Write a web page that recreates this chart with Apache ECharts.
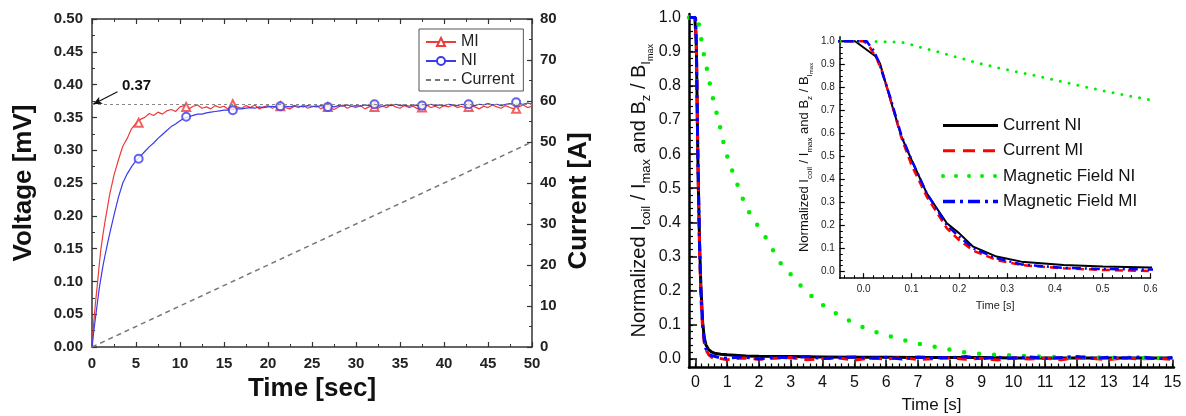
<!DOCTYPE html>
<html><head><meta charset="utf-8">
<script src="https://cdn.jsdelivr.net/npm/echarts@6/dist/echarts.min.js"></script>
<style>html,body{margin:0;padding:0;background:#fff}#c{width:1186px;height:416px}</style>
</head><body><div id="c"></div>
<script>
// ---------------- LEFT CHART DATA ----------------
const leftTime = [0,0.2,0.4,0.6,0.8,1,1.25,1.5,1.75,2,2.5,3,3.5,4,4.5,5,5.5,6,6.5,7,7.5,8,8.5,9,9.5,10,10.5,11,11.5,12,12.5,13,13.5,14,14.5,15,15.5,16,16.5,17,17.5,18,18.5,19,19.5,20,20.5,21,21.5,22,22.5,23,23.5,24,24.5,25,25.5,26,26.5,27,27.5,28,28.5,29,29.5,30,30.5,31,31.5,32,32.5,33,33.5,34,34.5,35,35.5,36,36.5,37,37.5,38,38.5,39,39.5,40,40.5,41,41.5,42,42.5,43,43.5,44,44.5,45,45.5,46,46.5,47,47.5,48,48.5,49,49.5,50];
const miVoltage = [0,0.038,0.068,0.094,0.122,0.148,0.172,0.193,0.212,0.232,0.262,0.285,0.306,0.318,0.333,0.341,
0.347,0.350,0.356,0.353,0.358,0.355,0.360,0.362,0.359,0.366,
0.368,0.363,0.367,0.369,0.364,0.366,0.363,0.368,0.365,0.367,
0.362,0.369,0.366,0.364,0.368,0.365,0.369,0.363,0.366,0.368,
0.364,0.367,0.369,0.365,0.363,0.367,0.365,0.369,0.364,0.366,
0.368,0.363,0.367,0.365,0.362,0.366,0.369,0.364,0.367,0.365,
0.368,0.363,0.366,0.369,0.364,0.367,0.365,0.370,0.366,0.364,
0.368,0.365,0.367,0.363,0.366,0.369,0.365,0.367,0.364,0.368,
0.366,0.369,0.365,0.367,0.364,0.368,0.366,0.363,0.367,0.365,
0.369,0.366,0.364,0.368,0.365,0.363,0.366,0.369,0.365,0.367];
const niVoltage = [0,0.024,0.045,0.066,0.087,0.104,0.124,0.141,0.157,0.172,0.201,0.228,0.250,0.264,0.275,0.284,
0.291,0.298,0.305,0.311,0.318,0.324,0.330,0.336,0.340,0.345,
0.349,0.351,0.353,0.355,0.355,0.357,0.358,0.359,0.360,0.361,
0.361,0.362,0.363,0.363,0.364,0.365,0.364,0.366,0.365,0.366,
0.367,0.366,0.368,0.367,0.366,0.368,0.367,0.366,0.368,0.367,
0.366,0.368,0.367,0.368,0.366,0.368,0.367,0.369,0.367,0.368,
0.367,0.369,0.368,0.370,0.368,0.367,0.369,0.368,0.370,0.368,
0.369,0.367,0.369,0.368,0.369,0.368,0.370,0.368,0.369,0.368,
0.370,0.369,0.368,0.370,0.369,0.370,0.368,0.370,0.369,0.371,
0.369,0.370,0.368,0.370,0.371,0.369,0.371,0.370,0.372,0.370];
const miMarkTime = [5.3,10.7,16.0,21.4,26.8,32.1,37.5,42.8,48.2];
const miMarkVoltage = [0.342,0.366,0.370,0.367,0.366,0.366,0.365,0.366,0.363];
const niMarkTime = [5.3,10.7,16.0,21.4,26.8,32.1,37.5,42.8,48.2];
const niMarkVoltage = [0.287,0.351,0.361,0.367,0.366,0.370,0.368,0.370,0.373];
const currentTime = [0, 50];
const currentAmp = [0, 50];
const refLevel = 0.367;
const refLabel = '0.37';
const arrowFrom = [2.9, 0.389];
const arrowTo = [0.12, 0.370];

// ---------------- RIGHT CHART DATA ----------------
const cniTime = [-0.2,-0.018,0.024,0.034,0.055,0.079,0.1,0.132,0.174,0.2,0.229,0.278,0.33,0.418,0.5,0.6,0.8,1,1.6,2,3,4,5,6,7,8,9,10,11,12,13,14,15];
const cniVal  = [1,1,0.936,0.904,0.752,0.585,0.485,0.339,0.209,0.165,0.107,0.064,0.042,0.027,0.021,0.017,0.014,0.012,0.009,0.008,0.007,0.006,0.005,0.005,0.004,0.004,0.004,0.003,0.003,0.003,0.003,0.003,0.003];
const cmiTime = [-0.2,0,0.01,0.027,0.04,0.055,0.079,0.1,0.132,0.174,0.2,0.229,0.278,0.33,0.418,0.5,0.6,0.75,1,1.5,2,2.5,3,3.5,4,4.5,5,5.5,6,6.5,7,7.5,8,8.5,9,9.5,10,10.5,11,11.5,12,12.5,13,13.5,14,14.5,15];
const cmiVal  = [1,1,0.984,0.926,0.86,0.755,0.58,0.462,0.324,0.187,0.135,0.09,0.049,0.027,0.013,0.006,0.001,
0.002,-0.002,0.003,-0.001,0.002,0.004,-0.002,0.001,0.003,-0.003,0.002,0.0,0.004,-0.002,0.001,0.003,-0.001,0.002,-0.003,0.003,0.0,0.002,-0.002,0.004,0.001,-0.002,0.003,0.0,0.002,-0.001];
const mniTime = [-0.2,0,0.08,0.15,0.23,0.28,0.35,0.425,0.5,0.6,0.75,0.94,1.2,1.42,1.57,1.85,2.15,2.4,2.67,3.04,3.4,3.83,4.2,4.66,5.1,5.56,6,6.45,7,7.7,8.54,9.49,10.3,11.2,12,13,14,15];
const mniVal  = [1,1,0.996,0.957,0.911,0.885,0.855,0.82,0.785,0.745,0.69,0.61,0.54,0.488,0.449,0.405,0.366,0.325,0.282,0.243,0.205,0.17,0.145,0.121,0.1,0.082,0.07,0.058,0.045,0.033,0.018,0.012,0.009,0.006,0.005,0.004,0.003,0.003];
const mmiTime = [-0.2,0.006,0.02,0.03,0.055,0.079,0.1,0.132,0.174,0.2,0.229,0.278,0.33,0.418,0.5,0.6,0.75,1,1.5,2,2.5,3,3.5,4,4.5,5,5.5,6,6.5,7,7.5,8,8.5,9,9.5,10,10.5,11,11.5,12,12.5,13,13.5,14,14.5,15];
const mmiVal  = [1,1,0.962,0.919,0.76,0.59,0.485,0.339,0.2,0.15,0.1,0.057,0.03,0.015,0.01,0.008,
0.004,0.002,0.006,0.0,0.005,0.003,0.007,0.001,0.004,0.006,0.002,0.005,0.0,0.006,0.003,0.004,0.007,0.001,0.005,0.003,0.006,0.002,0.004,0.007,0.002,0.005,0.003,0.006,0.001,0.004];

const rightXTicks = [0,1,2,3,4,5,6,7,8,9,10,11,12,13,14,15];
const rightYTicks = [0,0.1,0.2,0.3,0.4,0.5,0.6,0.7,0.8,0.9,1.0];
const insetXTicks = [0,0.1,0.2,0.3,0.4,0.5,0.6];
const insetYTicks = [0,0.1,0.2,0.3,0.4,0.5,0.6,0.7,0.8,0.9,1.0];

// ---------------- helpers ----------------
function pairs(t, v) { return t.map((x, i) => [x, v[i]]); }
function steps(a, b, s) { const r = []; for (let k = 0; a + k * s <= b + 1e-9; k++) r.push(+(a + k * s).toFixed(4)); return r; }
const rightXMinor = steps(-0.2, 15, 0.2);
const rightYMinor = steps(0, 1.0, 0.02);
const insetXMinor = steps(-0.04, 0.6, 0.02);
const insetYMinor = steps(0, 1.0, 0.025);

const F = "'Liberation Sans', Arial, sans-serif";
const leftAxisColor = '#333';
const hide = { show: false };

const chart = echarts.init(document.getElementById('c'), null, { renderer: 'canvas' });

const grid0 = { left: 92, top: 19, width: 440, height: 328, outerBoundsMode: 'none' };
const grid1 = { left: 689, top: 14.1, width: 485, height: 353.4, outerBoundsMode: 'none' };
const grid2 = { left: 839.8, top: 36.7, width: 310.7, height: 241.5, outerBoundsMode: 'none' };

function leftX(pos, labels) {
  return {
    gridIndex: 0, type: 'value', position: pos, min: 0, max: 50, interval: 5,
    axisLine: { onZero: false, lineStyle: { color: leftAxisColor, width: 1.5 } },
    axisTick: { inside: true, length: 5, lineStyle: { color: leftAxisColor, width: 1.2 } },
    minorTick: { show: true, splitNumber: 2, length: 3, lineStyle: { color: leftAxisColor, width: 1 } },
    axisLabel: labels ? { fontFamily: F, fontWeight: 'bold', fontSize: 15, color: '#222', margin: 9 } : hide,
    splitLine: hide,
    name: labels ? 'Time [sec]' : '', nameLocation: 'middle', nameGap: 28,
    nameTextStyle: { fontFamily: F, fontWeight: 'bold', fontSize: 26, color: '#111' }
  };
}

const richMain = {
  n: { fontFamily: F, fontSize: 20, lineHeight: 22, color: '#111' },
  s: { fontFamily: F, fontSize: 13, lineHeight: 14, padding: [14, 0, 0, 0], color: '#111' },
  ss: { fontFamily: F, fontSize: 9, lineHeight: 10, padding: [22, 0, 0, 0], color: '#111' }
};
const richInset = {
  n: { fontFamily: F, fontSize: 13, lineHeight: 14, color: '#111' },
  s: { fontFamily: F, fontSize: 8, lineHeight: 9, padding: [9, 0, 0, 0], color: '#111' },
  ss: { fontFamily: F, fontSize: 6, lineHeight: 7, padding: [14, 0, 0, 0], color: '#111' }
};
const yTitle = '{n|Normalized I}{s|coil}{n| / I}{s|max}{n| and B}{s|z}{n| / B}{s|I}{ss|max}';

const option = {
  animation: false,
  backgroundColor: '#fff',
  grid: [
    grid0, grid1, grid2,
    Object.assign({}, grid1), Object.assign({}, grid2)
  ],
  legend: [
    {
      left: 419, top: 29, orient: 'vertical',
      padding: [5, 9, 3, 6], borderColor: '#555', borderWidth: 1, backgroundColor: '#fff',
      itemWidth: 30, itemHeight: 10, itemGap: 3,
      textStyle: { fontFamily: F, fontSize: 16, lineHeight: 16, color: '#222' },
      data: [
        { name: 'MI' },
        { name: 'NI' },
        { name: 'Current', itemStyle: { opacity: 0 } }
      ]
    },
    {
      left: 941, top: 117, orient: 'vertical', padding: 0,
      itemWidth: 55, itemHeight: 14, itemGap: 8.3,
      textStyle: { fontFamily: F, fontSize: 17, lineHeight: 17, color: '#111' },
      itemStyle: { opacity: 0 },
      data: [
        { name: 'Current NI', lineStyle: { width: 3, type: 'solid' } },
        { name: 'Current MI', lineStyle: { width: 3, type: [12, 8] } },
        { name: 'Magnetic Field NI', lineStyle: { width: 4, type: [0, 13], cap: 'round' } },
        { name: 'Magnetic Field MI', lineStyle: { width: 3.5, type: [12, 5, 3, 5] } }
      ]
    }
  ],
  xAxis: [
    leftX('bottom', true),
    leftX('top', false),
    {
      gridIndex: 1, type: 'value', min: -0.2, max: 15.05,
      axisLine: { onZero: false, lineStyle: { color: '#000', width: 2.5 } },
      axisTick: { inside: true, length: 8, customValues: rightXTicks, lineStyle: { color: '#000', width: 1.5 } },
      axisLabel: { customValues: rightXTicks, fontFamily: F, fontSize: 16, color: '#111', margin: 7 },
      splitLine: hide,
      name: 'Time [s]', nameLocation: 'middle', nameGap: 29,
      nameTextStyle: { fontFamily: F, fontSize: 17, color: '#111' }
    },
    {
      gridIndex: 3, type: 'value', min: -0.2, max: 15.05,
      axisLine: { show: false, onZero: false }, axisLabel: hide, splitLine: hide,
      axisTick: { inside: true, length: 4, customValues: rightXMinor, lineStyle: { color: '#000', width: 1.2 } }
    },
    {
      gridIndex: 2, type: 'value', min: -0.05, max: 0.6,
      axisLine: { onZero: false, lineStyle: { color: '#000', width: 1.5 } },
      axisTick: { inside: true, length: 5, customValues: insetXTicks, lineStyle: { color: '#000', width: 1.2 } },
      axisLabel: { customValues: insetXTicks, formatter: v => v.toFixed(1), fontFamily: F, fontSize: 10, color: '#222', margin: 6 },
      splitLine: hide,
      name: 'Time [s]', nameLocation: 'middle', nameGap: 22,
      nameTextStyle: { fontFamily: F, fontSize: 11, color: '#222' }
    },
    {
      gridIndex: 4, type: 'value', min: -0.05, max: 0.6,
      axisLine: { show: false, onZero: false }, axisLabel: hide, splitLine: hide,
      axisTick: { inside: true, length: 3, customValues: insetXMinor, lineStyle: { color: '#000', width: 1 } }
    }
  ],
  yAxis: [
    {
      gridIndex: 0, type: 'value', position: 'left', min: 0, max: 0.5, interval: 0.05,
      axisLine: { onZero: false, lineStyle: { color: leftAxisColor, width: 1.5 } },
      axisTick: { inside: true, length: 5, lineStyle: { color: leftAxisColor, width: 1.2 } },
      minorTick: { show: true, splitNumber: 2, length: 3, lineStyle: { color: leftAxisColor } },
      axisLabel: { formatter: v => v.toFixed(2), fontFamily: F, fontWeight: 'bold', fontSize: 15, color: '#222', margin: 9 },
      splitLine: hide,
      name: 'Voltage [mV]', nameLocation: 'middle', nameGap: 55,
      nameTextStyle: { fontFamily: F, fontWeight: 'bold', fontSize: 26, color: '#111' }
    },
    {
      gridIndex: 0, type: 'value', position: 'right', min: 0, max: 80, interval: 10,
      axisLine: { onZero: false, lineStyle: { color: leftAxisColor, width: 1.5 } },
      axisTick: { inside: true, length: 5, lineStyle: { color: leftAxisColor, width: 1.2 } },
      minorTick: { show: true, splitNumber: 2, length: 3, lineStyle: { color: leftAxisColor } },
      axisLabel: { fontFamily: F, fontWeight: 'bold', fontSize: 15, color: '#222', margin: 8 },
      splitLine: hide,
      name: 'Current [A]', nameLocation: 'middle', nameGap: 34,
      nameTextStyle: { fontFamily: F, fontWeight: 'bold', fontSize: 26, color: '#111', padding: [0, 36, 0, 0] }
    },
    {
      gridIndex: 1, type: 'value', min: -0.025, max: 1.01,
      axisLine: { onZero: false, lineStyle: { color: '#000', width: 2.5 } },
      axisTick: { inside: true, length: 8, customValues: rightYTicks, lineStyle: { color: '#000', width: 1.5 } },
      axisLabel: { customValues: rightYTicks, formatter: v => v.toFixed(1), fontFamily: F, fontSize: 16, color: '#111', margin: 8 },
      splitLine: hide,
      name: yTitle, nameLocation: 'middle', nameGap: 36,
      nameTextStyle: { fontFamily: F, fontSize: 20, color: '#111', rich: richMain }
    },
    {
      gridIndex: 3, type: 'value', min: -0.025, max: 1.01,
      axisLine: { show: false, onZero: false }, axisLabel: hide, splitLine: hide,
      axisTick: { inside: true, length: 4, customValues: rightYMinor, lineStyle: { color: '#000', width: 1.2 } }
    },
    {
      gridIndex: 2, type: 'value', min: -0.03, max: 1.02,
      axisLine: { onZero: false, lineStyle: { color: '#000', width: 1.5 } },
      axisTick: { inside: true, length: 5, customValues: insetYTicks, lineStyle: { color: '#000', width: 1.2 } },
      axisLabel: { customValues: insetYTicks, formatter: v => v.toFixed(1), fontFamily: F, fontSize: 10, color: '#222', margin: 5 },
      splitLine: hide,
      name: yTitle, nameLocation: 'middle', nameGap: 28,
      nameTextStyle: { fontFamily: F, fontSize: 13, color: '#111', rich: richInset }
    },
    {
      gridIndex: 4, type: 'value', min: -0.03, max: 1.02,
      axisLine: { show: false, onZero: false }, axisLabel: hide, splitLine: hide,
      axisTick: { inside: true, length: 3, customValues: insetYMinor, lineStyle: { color: '#000', width: 1 } }
    }
  ],
  graphic: [
    { type: 'text', left: 122, top: 78, style: { text: refLabel, fontFamily: F, fontWeight: 'bold', fontSize: 15, fill: '#111' } }
  ],
  series: [
    {
      name: 'MI', type: 'line', xAxisIndex: 0, yAxisIndex: 0, data: pairs(leftTime, miVoltage),
      symbol: 'emptyTriangle', showSymbol: false, color: '#ee3b3b',
      lineStyle: { width: 1.2, color: '#ee3b3b' }, z: 3,
      markLine: {
        silent: true, symbol: ['none', 'arrow'], symbolSize: [6, 9], label: hide,
        data: [ [{ coord: arrowFrom }, { coord: arrowTo }] ],
        lineStyle: { color: '#111', width: 1.2, type: 'solid' }
      }
    },
    {
      name: 'MI', type: 'scatter', xAxisIndex: 0, yAxisIndex: 0, data: pairs(miMarkTime, miMarkVoltage),
      symbol: 'emptyTriangle', symbolSize: 8, itemStyle: { color: '#ee3b3b', borderWidth: 1 }, z: 4
    },
    {
      name: 'NI', type: 'line', xAxisIndex: 0, yAxisIndex: 0, data: pairs(leftTime, niVoltage),
      symbol: 'emptyCircle', showSymbol: false, color: '#3b3bea',
      lineStyle: { width: 1.2, color: '#3b3bea' }, z: 3,
      markLine: {
        silent: true, symbol: 'none', label: hide,
        data: [ { yAxis: refLevel } ],
        lineStyle: { type: [3, 3], color: '#888', width: 1 }
      }
    },
    {
      name: 'NI', type: 'scatter', xAxisIndex: 0, yAxisIndex: 0, data: pairs(niMarkTime, niMarkVoltage),
      symbol: 'emptyCircle', symbolSize: 8, itemStyle: { color: '#3b3bea', borderWidth: 1 }, z: 4
    },
    {
      name: 'Current', type: 'line', xAxisIndex: 0, yAxisIndex: 1, data: pairs(currentTime, currentAmp),
      symbol: 'none', color: '#777', lineStyle: { width: 1.5, type: [5, 4], color: '#777' }
    },
    // main right chart
    {
      name: 'Current NI', type: 'line', xAxisIndex: 2, yAxisIndex: 2, data: pairs(cniTime, cniVal),
      symbol: 'none', color: '#000', lineStyle: { width: 3, color: '#000' }
    },
    {
      name: 'Current MI', type: 'line', xAxisIndex: 2, yAxisIndex: 2, data: pairs(cmiTime, cmiVal),
      symbol: 'none', color: '#ff0000', lineStyle: { width: 3, color: '#ff0000', type: [10, 7] }
    },
    {
      name: 'Magnetic Field NI', type: 'line', xAxisIndex: 2, yAxisIndex: 2, data: pairs(mniTime, mniVal),
      symbol: 'none', color: '#00ee00', lineStyle: { width: 4.5, color: '#00ee00', type: [0, 15], cap: 'round' }
    },
    {
      name: 'Magnetic Field MI', type: 'line', xAxisIndex: 2, yAxisIndex: 2, data: pairs(mmiTime, mmiVal),
      symbol: 'none', color: '#0000ff', lineStyle: { width: 3, color: '#0000ff', type: [10, 5, 3, 5] }
    },
    // inset
    {
      name: 'Current NI', type: 'line', xAxisIndex: 4, yAxisIndex: 4, data: pairs(cniTime, cniVal),
      symbol: 'none', color: '#000', lineStyle: { width: 2, color: '#000' }
    },
    {
      name: 'Current MI', type: 'line', xAxisIndex: 4, yAxisIndex: 4, data: pairs(cmiTime, cmiVal),
      symbol: 'none', color: '#ff0000', lineStyle: { width: 2.5, color: '#ff0000', type: [8, 5] }
    },
    {
      name: 'Magnetic Field NI', type: 'line', xAxisIndex: 4, yAxisIndex: 4, data: pairs(mniTime, mniVal),
      symbol: 'none', color: '#00ee00', lineStyle: { width: 3, color: '#00ee00', type: [0, 9], cap: 'round' }
    },
    {
      name: 'Magnetic Field MI', type: 'line', xAxisIndex: 4, yAxisIndex: 4, data: pairs(mmiTime, mmiVal),
      symbol: 'none', color: '#0000ff', lineStyle: { width: 2.5, color: '#0000ff', type: [9, 4, 2, 4] }
    }
  ]
};
chart.setOption(option);
</script>
</body></html>
